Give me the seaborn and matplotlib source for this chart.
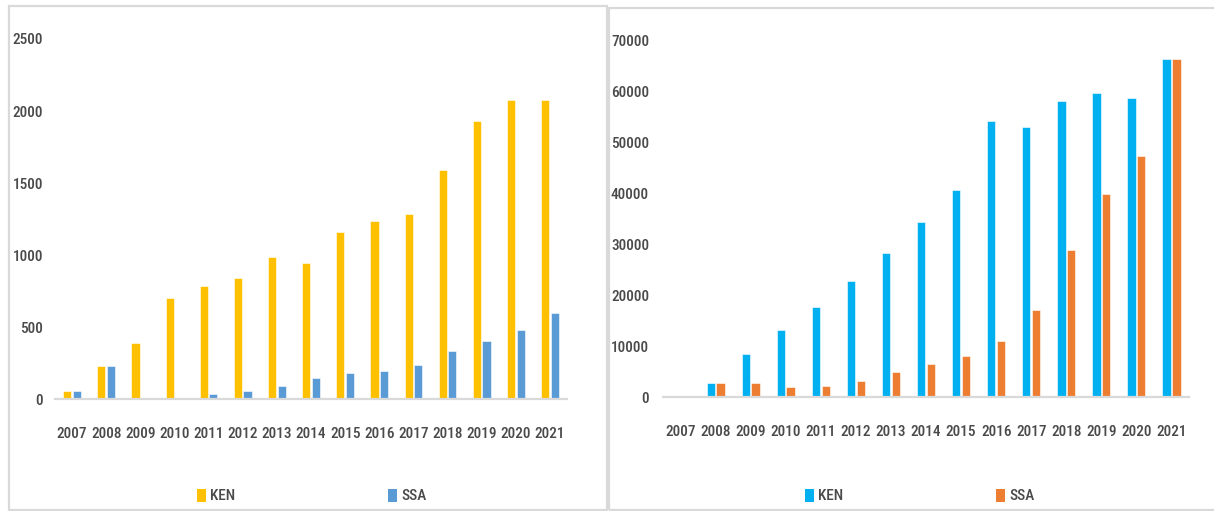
import numpy as np
import pandas as pd
import matplotlib
matplotlib.use("Agg")
import matplotlib.pyplot as plt
from matplotlib import font_manager
from matplotlib.patches import Patch, Rectangle
import seaborn as sns

# ---- data ----
years = [str(y) for y in range(2007, 2022)]

# Left panel
ken_left = [60, 230, 390, 700, 790, 840, 985, 945, 1160, 1240, 1285, 1590, 1930, 2080, 2080]
ssa_left = [60, 230, 0, 0, 35, 60, 95, 150, 185, 195, 240, 335, 405, 480, 600]
left_ticks = [0, 500, 1000, 1500, 2000, 2500]

# Right panel
ken_right = [0, 2750, 8400, 13200, 17600, 22800, 28300, 34300, 40700, 54100, 52900,
             58100, 59600, 58600, 66300]
ssa_right = [0, 2750, 2750, 2000, 2200, 3200, 5000, 6500, 8000, 11000, 17100,
             28900, 39800, 47200, 66300]
right_ticks = [0, 10000, 20000, 30000, 40000, 50000, 60000, 70000]

series = ["KEN", "SSA"]
left_colors = {"KEN": "#FFC000", "SSA": "#5B9BD5"}
right_colors = {"KEN": "#00B0F0", "SSA": "#ED7D31"}

# ---- style ----
sns.set_style("white")
available = {f.name for f in font_manager.fontManager.ttflist}
family = next((f for f in ["Liberation Sans Narrow", "Roboto Condensed",
                           "DejaVu Sans Condensed", "Liberation Sans"] if f in available),
              "DejaVu Sans")
plt.rcParams["font.family"] = [family, "DejaVu Sans"]
plt.rcParams["font.weight"] = "medium"
text_color = "#4A4A4A"
grid_color = "#D9D9D9"
label_size = 11

W, H = 1214, 511
fig = plt.figure(figsize=(W / 100, H / 100), dpi=100)
fig.patch.set_facecolor("white")

# panel frames
fig.patches.append(Rectangle((9 / W, 1 - 510 / H), (607 - 9) / W, (510 - 6) / H,
                             transform=fig.transFigure, fill=False,
                             edgecolor=grid_color, linewidth=1.6, zorder=0))
fig.patches.append(Rectangle((609 / W, 1 - 510 / H), (1225 - 609) / W, (510 - 8) / H,
                             transform=fig.transFigure, fill=False,
                             edgecolor=grid_color, linewidth=1.6, zorder=0))


def long_frame(ken, ssa):
    return pd.DataFrame({
        "year": years * 2,
        "value": list(ken) + list(ssa),
        "series": ["KEN"] * len(years) + ["SSA"] * len(years),
    })


def draw_panel(rect, ken, ssa, colors, ticks, ytick_pad, legend_x):
    ax = fig.add_axes(rect)
    df = long_frame(ken, ssa)
    sns.barplot(data=df, x="year", y="value", hue="series", hue_order=series,
                palette=colors, saturation=1, width=0.56, gap=0.15, legend=False,
                edgecolor="white", linewidth=0.4, ax=ax)
    ax.set_xlim(-0.5, len(years) - 0.5)
    ax.set_ylim(ticks[0], ticks[-1])
    ax.set_yticks(ticks)
    ax.set_yticklabels([str(t) for t in ticks])
    ax.set_xlabel("")
    ax.set_ylabel("")
    for side in ["top", "right", "left"]:
        ax.spines[side].set_visible(False)
    ax.spines["bottom"].set_color(grid_color)
    ax.spines["bottom"].set_linewidth(1.6)
    ax.tick_params(axis="x", length=0, pad=20, labelsize=label_size, colors=text_color)
    ax.tick_params(axis="y", length=0, pad=ytick_pad, labelsize=label_size, colors=text_color)
    ax.set_facecolor("none")
    handles = [Patch(facecolor=colors[s], edgecolor="none", label=s) for s in series]
    ax.legend(handles=handles, loc="center", ncol=2, frameon=False,
              bbox_to_anchor=(legend_x / W, 1 - 496 / H), bbox_transform=fig.transFigure,
              fontsize=label_size, labelcolor=text_color, handlelength=0.55, handleheight=0.95,
              handletextpad=0.3, columnspacing=10.0)
    return ax


draw_panel([55 / W, 1 - 399.4 / H, 512 / W, (399.4 - 39) / H],
           ken_left, ssa_left, left_colors, left_ticks, 8.5, 312)
draw_panel([663 / W, 1 - 397.3 / H, 526 / W, (397.3 - 40) / H],
           ken_right, ssa_right, right_colors, right_ticks, 10, 920)

fig.savefig("out.png", dpi=100, facecolor="white")
